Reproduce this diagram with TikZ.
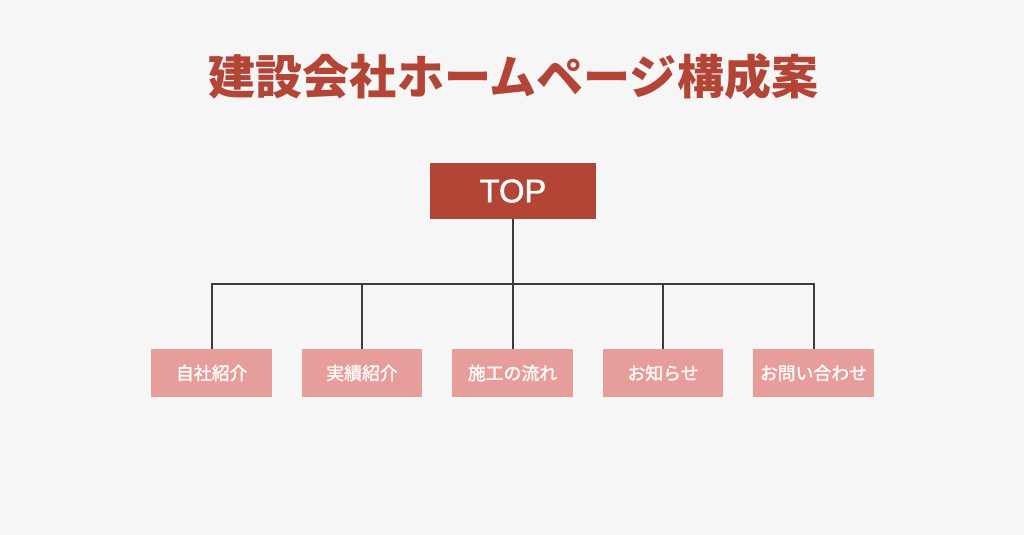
\documentclass[tikz,border=0pt]{standalone}
\usepackage{fontspec}
\setmainfont{Noto Sans CJK JP}
\newfontfamily\jpmed{Noto Sans CJK JP}[FakeBold=1.2]
\newfontfamily\latinsans{Liberation Sans}[FakeBold=1.4]
\definecolor{bgcol}{HTML}{F6F6F6}
\definecolor{topred}{HTML}{B24535}
\definecolor{childpink}{HTML}{E79E9B}
\definecolor{linegray}{HTML}{3C3C3C}
\tikzset{
  topbox/.style={fill=topred, draw=none, minimum width=124.5pt, minimum height=42pt, inner sep=0pt, text=white, font=\latinsans\fontsize{24.5}{24.5}\selectfont},
  childbox/.style={fill=childpink, draw=none, minimum width=90.5pt, minimum height=36pt, inner sep=0pt, text=white, font=\jpmed\fontsize{13.4}{13.4}\selectfont},
  conn/.style={draw=linegray, line width=1.5pt},
}
\begin{document}
\begin{tikzpicture}[x=0.75pt, y=-0.75pt]
\fill[bgcol] (0,0) rectangle (1024,535);
\useasboundingbox (0,0) rectangle (1024,535);
\node[text=topred, font=\fontsize{35.3}{35.3}\selectfont\bfseries, inner sep=0pt] (title) at (513.5,77) {建設会社ホームページ構成案};
\node[topbox] (top) at (513,191) {TOP};
\coordinate (hub) at (513,284);
\node[childbox] (c1) at (211.7,373) {自社紹介};
\node[childbox] (c2) at (362,373) {実績紹介};
\node[childbox] (c3) at (512.5,373) {施工の流れ};
\node[childbox] (c4) at (663,373) {お知らせ};
\node[childbox] (c5) at (813.5,373) {お問い合わせ};
\coordinate (l1) at (c1.north |- hub);
\coordinate (l2) at (c2.north |- hub);
\coordinate (l4) at (c4.north |- hub);
\coordinate (l5) at (c5.north |- hub);
\draw[conn] (top.south) -- (top.south |- hub);
\draw[conn] (c1.north) -- (l1) -- (l5) -- (c5.north);
\draw[conn] (c2.north) -- (l2);
\draw[conn] (c3.north) -- (c3.north |- hub);
\draw[conn] (c4.north) -- (l4);
\end{tikzpicture}
\end{document}
